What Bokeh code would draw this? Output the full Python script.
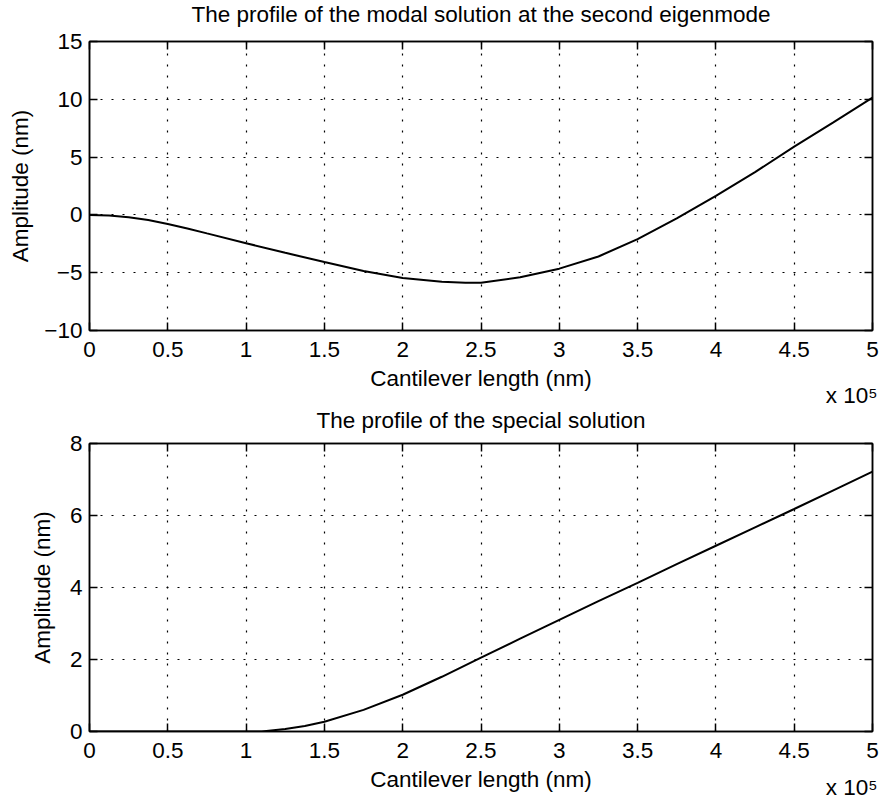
from bokeh.plotting import figure
from bokeh.layouts import column
from bokeh.models import LinearAxis, Title, FixedTicker, Range1d
from bokeh.embed import file_html
from bokeh.resources import INLINE

# ---------------- data ----------------
x_ticks = [0, 50000, 100000, 150000, 200000, 250000, 300000, 350000, 400000, 450000, 500000]
x_tick_labels = ["0", "0.5", "1", "1.5", "2", "2.5", "3", "3.5", "4", "4.5", "5"]

top_y_ticks = [-10, -5, 0, 5, 10, 15]
top_y_tick_labels = ["\u221210", "\u22125", "0", "5", "10", "15"]
bot_y_ticks = [0, 2, 4, 6, 8]
bot_y_tick_labels = ["0", "2", "4", "6", "8"]

modal_x = [0, 12500, 25000, 37500, 50000, 62500, 75000, 100000, 125000, 150000, 175000,
           200000, 225000, 240000, 250000, 275000, 300000, 325000, 350000, 375000,
           400000, 425000, 450000, 475000, 500000]
modal_y = [0.0, -0.05, -0.2, -0.45, -0.78, -1.17, -1.6, -2.45, -3.28, -4.07, -4.85,
           -5.45, -5.78, -5.88, -5.87, -5.4, -4.65, -3.6, -2.1, -0.3,
           1.65, 3.7, 5.9, 8.0, 10.15]

special_x = [0, 50000, 100000, 110000, 125000, 137500, 150000, 175000, 200000, 225000,
             250000, 275000, 300000, 325000, 350000, 375000, 400000, 425000,
             450000, 475000, 500000]
special_y = [0.0, 0.0, 0.0, 0.0, 0.07, 0.15, 0.27, 0.6, 1.02, 1.52,
             2.05, 2.58, 3.1, 3.62, 4.13, 4.65, 5.16, 5.67,
             6.18, 6.7, 7.22]

title_top = "The profile of the modal solution at the second eigenmode"
title_bot = "The profile of the special solution"
x_label = "Cantilever length (nm)"
y_label = "Amplitude (nm)"
exponent_label = "x 10\u2075"

FONT = "Liberation Sans"
FS = "22.5px"


def box_axis(ticks):
    ax = LinearAxis(ticker=FixedTicker(ticks=ticks))
    ax.major_label_text_color = None
    ax.major_label_text_font_size = "1px"
    ax.major_label_standoff = 0
    ax.axis_line_color = "black"
    ax.axis_line_width = 1.5
    ax.major_tick_line_color = "black"
    ax.major_tick_line_width = 1.5
    ax.major_tick_in = 8
    ax.major_tick_out = 0
    ax.minor_tick_line_color = None
    return ax


def make_panel(title, xs, ys, yr, yticks, ylabels, height, mtop, mbot,
               top_spacer, exp_standoff, exp_valign, ylabel_standoff):
    p = figure(width=879, height=height, output_backend="svg", toolbar_location=None,
               x_range=Range1d(0, 500000), y_range=Range1d(*yr),
               min_border_left=89, min_border_right=7,
               min_border_top=mtop, min_border_bottom=mbot,
               background_fill_color="white", border_fill_color="white")
    p.title.text = title
    p.title.align = "center"
    p.title.text_font = FONT
    p.title.text_font_size = FS
    p.title.text_font_style = "normal"
    p.title.text_color = "black"
    p.title.standoff = -2

    p.line(xs, ys, line_color="black", line_width=2)

    xa = p.xaxis[0]
    ya = p.yaxis[0]
    xa.ticker = FixedTicker(ticks=x_ticks)
    xa.major_label_overrides = dict(zip(x_ticks, x_tick_labels))
    ya.ticker = FixedTicker(ticks=yticks)
    ya.major_label_overrides = dict(zip(yticks, ylabels))
    xa.axis_label = x_label
    ya.axis_label = y_label
    for ax in (xa, ya):
        ax.axis_label_text_font = FONT
        ax.axis_label_text_font_size = FS
        ax.axis_label_text_font_style = "normal"
        ax.axis_label_text_color = "black"
        ax.major_label_text_font = FONT
        ax.major_label_text_font_size = FS
        ax.major_label_text_color = "black"
        ax.axis_line_color = "black"
        ax.axis_line_width = 1.5
        ax.major_tick_line_color = "black"
        ax.major_tick_line_width = 1.5
        ax.major_tick_in = 8
        ax.major_tick_out = 0
        ax.minor_tick_line_color = None
    xa.major_label_standoff = 11
    xa.axis_label_standoff = 6
    ya.major_label_standoff = 7
    ya.axis_label_standoff = ylabel_standoff

    # box ticks on top and right (no labels)
    p.add_layout(box_axis(x_ticks), "above")
    p.add_layout(box_axis(yticks), "right")

    # invisible spacer between the box and the title
    spacer = LinearAxis(ticker=FixedTicker(ticks=x_ticks))
    spacer.axis_line_color = None
    spacer.major_tick_line_color = None
    spacer.minor_tick_line_color = None
    spacer.major_label_text_color = None
    spacer.major_label_text_font_size = "1px"
    spacer.major_label_standoff = 0
    spacer.major_tick_in = 0
    spacer.major_tick_out = top_spacer
    p.add_layout(spacer, "above")

    p.add_layout(Title(text=exponent_label, align="right", offset=-5,
                       vertical_align=exp_valign,
                       standoff=exp_standoff, text_font=FONT, text_font_size=FS,
                       text_font_style="normal", text_color="black"), "below")

    for g in (p.xgrid[0], p.ygrid[0]):
        g.grid_line_color = "black"
        g.grid_line_dash = "2 9"
        g.grid_line_width = 1.2
    p.xgrid[0].ticker = FixedTicker(ticks=x_ticks)
    p.ygrid[0].ticker = FixedTicker(ticks=yticks)

    p.outline_line_color = "black"
    p.outline_line_width = 1.5
    return p


p1 = make_panel(title_top, modal_x, modal_y, (-10, 15), top_y_ticks, top_y_tick_labels,
                406, 41, 76, 16, -28, "bottom", 8)
p2 = make_panel(title_bot, special_x, special_y, (0, 8), bot_y_ticks, bot_y_tick_labels,
                398, 36, 73, 12, -40, "top", 12)

layout = column(p1, p2, spacing=0)
open("out.html", "w").write(file_html(layout, INLINE))
